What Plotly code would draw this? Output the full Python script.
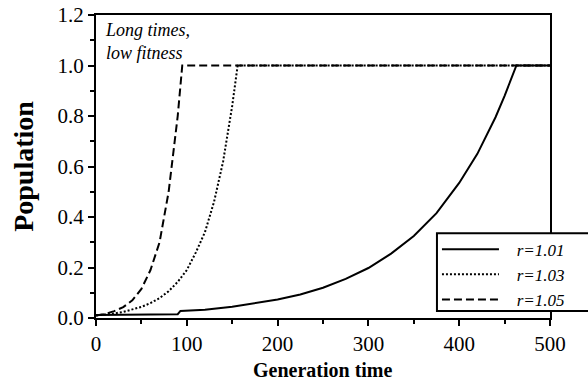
import plotly.graph_objects as go

# r = 1.01 (solid)
t_101 = [0, 30, 60, 90, 93, 120, 150, 180, 200, 225, 250, 275, 300, 325, 350, 375, 400, 420, 440, 450, 463, 500]
p_101 = [0.012, 0.013, 0.014, 0.015, 0.028, 0.033, 0.045, 0.06, 0.073, 0.093, 0.12, 0.155, 0.198, 0.255, 0.325, 0.415, 0.535, 0.65, 0.795, 0.88, 1.0, 1.0]

# r = 1.03 (dotted)
t_103 = [0, 10, 20, 30, 40, 50, 60, 70, 80, 90, 100, 110, 120, 130, 140, 150, 156, 500]
p_103 = [0.01, 0.013, 0.018, 0.024, 0.033, 0.044, 0.059, 0.079, 0.106, 0.143, 0.19, 0.26, 0.34, 0.46, 0.62, 0.84, 1.0, 1.0]

# r = 1.05 (dashed)
t_105 = [0, 10, 20, 30, 40, 50, 60, 70, 80, 90, 95, 500]
p_105 = [0.01, 0.016, 0.027, 0.043, 0.07, 0.115, 0.19, 0.30, 0.50, 0.80, 1.0, 1.0]

names = ["r=1.01", "r=1.03", "r=1.05"]
x_ticks = [0, 100, 200, 300, 400, 500]
y_ticks = [0.0, 0.2, 0.4, 0.6, 0.8, 1.0, 1.2]

serif = "Liberation Serif"
lead = "\u00a0\u00a0\u00a0"

fig = go.Figure()
fig.add_trace(go.Scatter(x=t_101, y=p_101, mode="lines", name=lead + names[0],
                         line=dict(color="black", width=2, dash="solid")))
fig.add_trace(go.Scatter(x=t_103, y=p_103, mode="lines", name=lead + names[1],
                         line=dict(color="black", width=2, dash="2px,2px")))
fig.add_trace(go.Scatter(x=t_105, y=p_105, mode="lines", name=lead + names[2],
                         line=dict(color="black", width=2, dash="8px,4px")))

fig.add_annotation(x=8, y=1.19, xref="x", yref="y", xanchor="left", yanchor="top",
                   text="Long times,<br>low fitness", showarrow=False, align="left",
                   font=dict(family=serif, size=18, color="black", style="italic"))

# x-axis title placed explicitly so it stays inside the page
fig.add_annotation(x=0.5, y=-0.172, xref="paper", yref="paper", xanchor="center", yanchor="middle",
                   text="<b>Generation time</b>", showarrow=False,
                   font=dict(family=serif, size=20, color="black"))

# legend frame (runs off the right edge like the reference)
fig.add_shape(type="rect", xref="paper", yref="paper", x0=0.751, x1=1.2, y0=0.023, y1=0.28,
              line=dict(color="black", width=2), fillcolor="white", layer="above")

axis_common = dict(showline=True, linecolor="black", linewidth=2, mirror=True,
                   ticks="outside", ticklen=6, tickwidth=2, tickcolor="black",
                   showgrid=False, zeroline=False, ticklabeloverflow="allow",
                   tickfont=dict(family=serif, size=21, color="black"))

fig.update_xaxes(range=[0, 500], tickvals=x_ticks, ticktext=[str(v) for v in x_ticks],
                 minor=dict(ticks="outside", ticklen=4, tickwidth=1.5, tickcolor="black", dtick=50, showgrid=False),
                 **axis_common)
fig.update_yaxes(range=[0, 1.2], tickvals=y_ticks, ticktext=[f"{v:.1f}" for v in y_ticks],
                 minor=dict(ticks="outside", ticklen=4, tickwidth=1.5, tickcolor="black", dtick=0.1, showgrid=False),
                 title=dict(text="<b>Population</b>", standoff=16,
                            font=dict(family=serif, size=28, color="black")),
                 **axis_common)

fig.update_layout(
    width=588, height=383,
    margin=dict(l=96, r=38, t=15, b=65, autoexpand=False),
    plot_bgcolor="white", paper_bgcolor="white",
    showlegend=True,
    legend=dict(x=0.751, y=0.285, xanchor="left", yanchor="top", xref="paper", yref="paper",
                bgcolor="rgba(0,0,0,0)", borderwidth=0,
                itemwidth=57, tracegroupgap=0,
                font=dict(family=serif, size=17, color="black", style="italic")),
)

# remove the browser's default body margin so the figure sits at the page origin
fig.write_html("out.html", config={"displayModeBar": False},
               post_script="document.body.style.margin='0px';")
